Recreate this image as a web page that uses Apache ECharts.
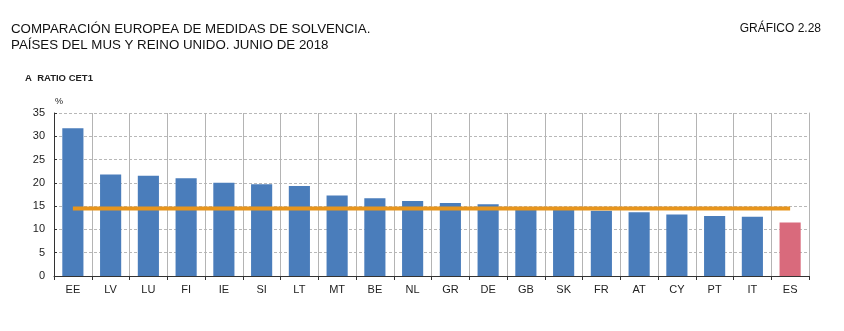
<!DOCTYPE html>
<html><head><meta charset="utf-8">
<script src="https://cdn.jsdelivr.net/npm/echarts@6/dist/echarts.min.js"></script>
<style>html,body{margin:0;padding:0;background:#fff}#c{width:844px;height:331px}</style>
</head><body><div id="c"></div>
<script>
const categories = ['EE','LV','LU','FI','IE','SI','LT','MT','BE','NL','GR','DE','GB','SK','FR','AT','CY','PT','IT','ES'];
const cet1 = [31.7,21.8,21.5,21.0,20.0,19.7,19.3,17.3,16.7,16.1,15.7,15.4,14.3,14.3,14.0,13.7,13.2,12.9,12.7,11.5];
const average = [14.5,14.5,14.5,14.5,14.5,14.5,14.5,14.5,14.5,14.5,14.5,14.5,14.5,14.5,14.5,14.5,14.5,14.5,14.5,14.5];
const yTicks = [0,5,10,15,20,25,30,35];
const highlight = 'ES';

const chart = echarts.init(document.getElementById('c'), null, {renderer:'canvas'});
const font = '"Liberation Sans", Arial, sans-serif';
chart.setOption({
  animation:false,
  backgroundColor:'#fff',
  graphic:[
    {type:'text', left:11, top:22, style:{text:'COMPARACIÓN EUROPEA DE MEDIDAS DE SOLVENCIA.\nPAÍSES DEL MUS Y REINO UNIDO. JUNIO DE 2018', font:'13.3px '+font, fill:'#111', lineHeight:15.5}},
    {type:'text', right:23, top:23, style:{text:'GRÁFICO 2.28', font:'12px '+font, fill:'#111'}},
    {type:'text', left:25, top:73, style:{text:'A  RATIO CET1', font:'bold 9.5px '+font, fill:'#222'}},
    {type:'text', left:55, top:97, style:{text:'%', font:'9px '+font, fill:'#222'}}
  ],
  grid:{left:54, right:35, top:113, bottom:55, show:false},
  xAxis:{type:'category', data:categories,
    axisLine:{lineStyle:{color:'#333'}},
    axisTick:{show:true, alignWithLabel:false, length:4, lineStyle:{color:'#333'}},
    axisLabel:{color:'#222', fontSize:11, fontFamily:font, margin:8},
    splitLine:{show:true, interval:0, lineStyle:{color:'#b4b4b4', type:'solid'}}
  },
  yAxis:[{type:'value', min:yTicks[0], max:yTicks[yTicks.length-1], interval:5,
    axisLine:{show:true, lineStyle:{color:'#333'}},
    axisTick:{show:true, inside:true, length:3, lineStyle:{color:'#333'}},
    axisLabel:{color:'#222', fontSize:11, fontFamily:font, margin:9},
    splitLine:{show:true, lineStyle:{color:'#b8b8b8', type:[3,2]}}
  },{type:'value', position:'right', min:yTicks[0], max:yTicks[yTicks.length-1], interval:5,
    axisLine:{show:true, lineStyle:{color:'#b4b4b4'}}, axisTick:{show:false}, axisLabel:{show:false}, splitLine:{show:false}}],
  series:[
    {type:'bar', data:cet1.map((v,i)=>({value:v, itemStyle:{color: categories[i]===highlight ? '#d96a7c' : '#4a7dbb'}})), barWidth:'56%'},
    {type:'line', data:average, symbol:'none', lineStyle:{color:'#e8951c', width:4}, z:5}
  ]
});
</script></body></html>
